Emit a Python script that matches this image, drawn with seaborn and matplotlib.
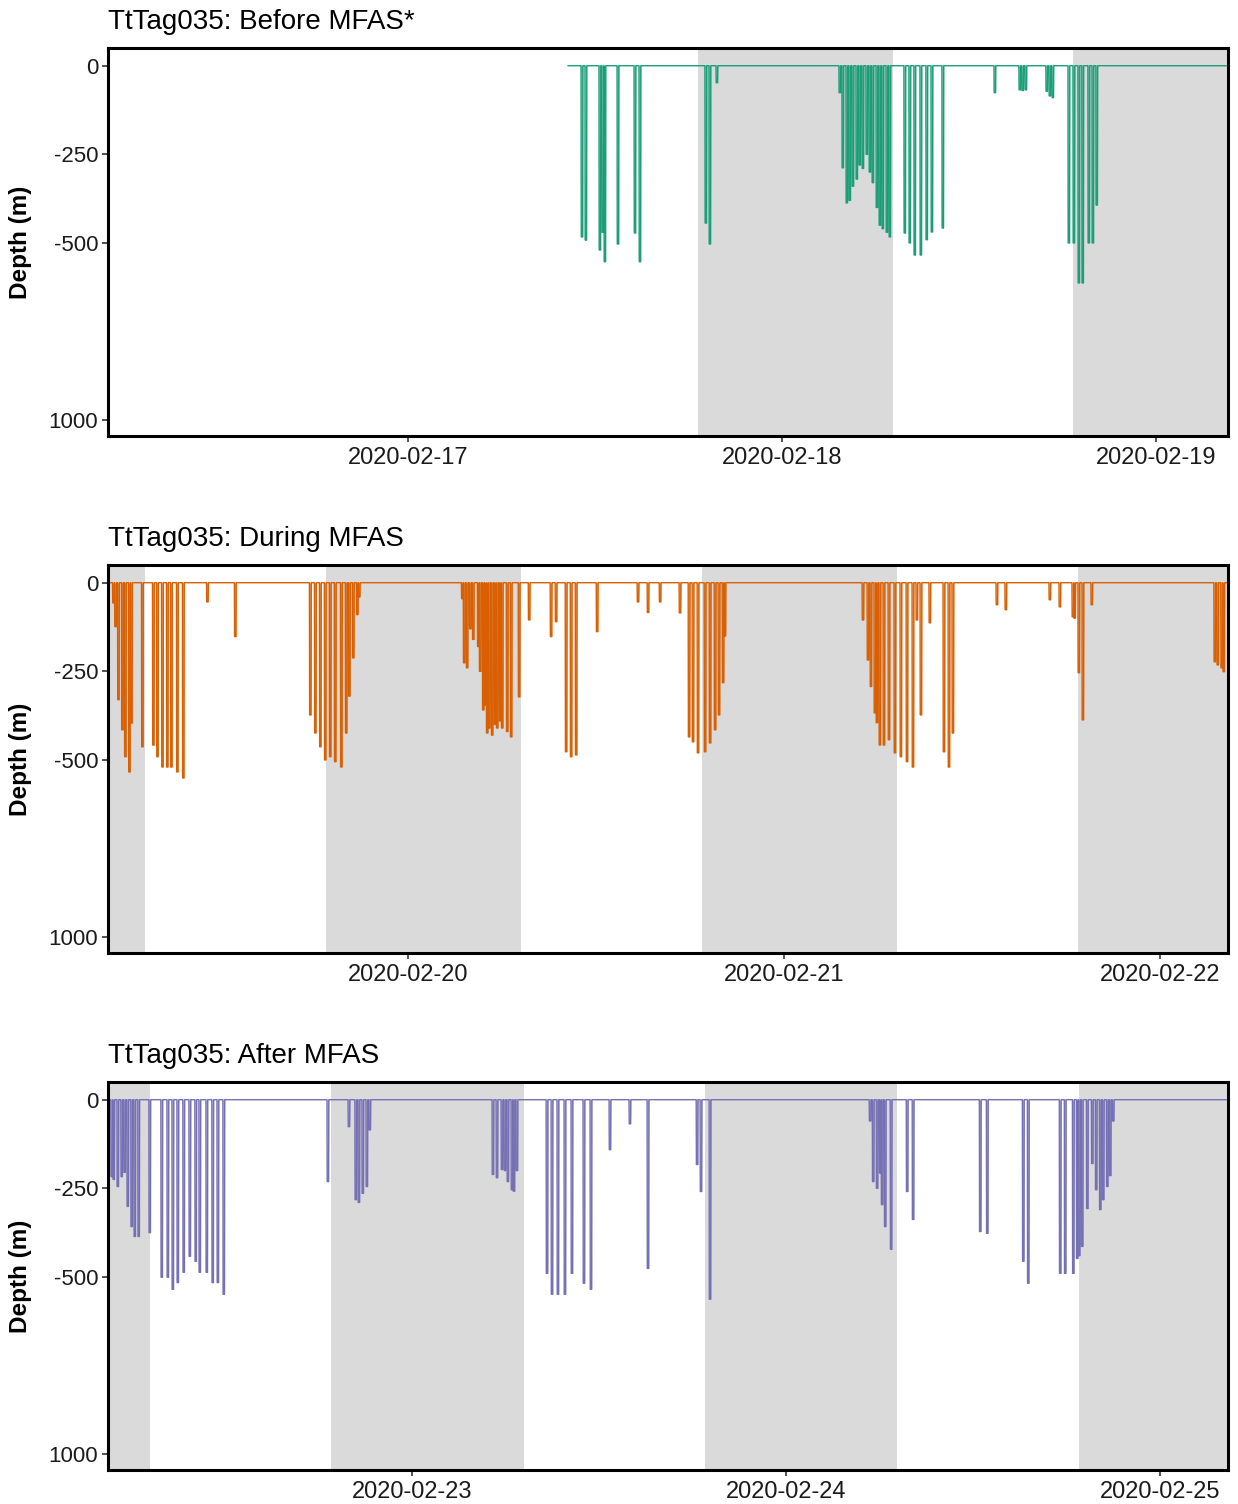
import pandas as pd
import matplotlib
matplotlib.use("Agg")
import matplotlib.pyplot as plt
import matplotlib.dates as mdates
import seaborn as sns

# ---- data -------------------------------------------------------------
titles = ["TtTag035: Before MFAS*", "TtTag035: During MFAS", "TtTag035: After MFAS"]
colors = ["#1b9e77", "#d95f02", "#7570b3"]

# plotted time window of each panel
win_start = ["2020-02-16 04:45", "2020-02-19 04:50", "2020-02-22 04:30"]
win_end = ["2020-02-19 04:38", "2020-02-22 04:20", "2020-02-25 04:22"]
# first record of the tag (panel 1 starts before the tag data)
data_start = ["2020-02-17 10:16", "2020-02-19 04:50", "2020-02-22 04:30"]

sunsets = ["2020-02-17 18:38", "2020-02-18 18:40", "2020-02-19 18:45", "2020-02-20 18:46",
           "2020-02-21 18:46", "2020-02-22 18:48", "2020-02-23 18:49", "2020-02-24 18:49"]
sunrises = ["2020-02-18 07:08", "2020-02-19 07:12", "2020-02-20 07:12", "2020-02-21 07:12",
            "2020-02-22 07:11", "2020-02-23 07:11", "2020-02-24 07:08", "2020-02-25 07:08"]

# dives: hours after the reference midnight, max depth (m)
before_ref = "2020-02-17"
before_hours = [11.17, 11.42, 12.32, 12.51, 12.64, 13.48, 14.57, 14.89,
                19.12, 19.38, 19.83,
                27.72, 27.91, 28.17, 28.36, 28.56, 28.81, 29.0, 29.2, 29.45, 29.65,
                29.84, 30.1, 30.29, 30.48, 30.74, 30.93,
                31.89, 32.21, 32.53, 32.92, 33.30, 33.63, 34.33,
                37.67, 39.27, 39.46, 39.66, 41.0, 41.2, 41.39,
                42.42, 42.74, 43.06, 43.31, 43.70, 43.96, 44.21]
before_depth = [483, 492, 520, 470, 553, 503, 472, 553,
                444, 503, 48,
                76, 288, 387, 380, 340, 320, 280, 290, 250, 300,
                330, 400, 450, 460, 470, 483,
                472, 500, 534, 534, 491, 469, 458,
                76, 68, 70, 68, 72, 85, 90,
                500, 500, 613, 613, 500, 500, 393]

during_ref = "2020-02-20"
during_hours = [-18.82, -18.69, -18.50, -18.25, -18.06, -17.80, -17.67, -16.97, -16.27, -16.01,
                -15.69, -15.38, -15.12, -14.74, -14.36, -12.82, -11.04,
                -6.25, -5.93, -5.61, -5.30, -4.98, -4.66, -4.27, -3.96, -3.76, -3.51, -3.25, -3.13,
                3.45, 3.57, 3.76, 3.96, 4.15, 4.47, 4.59, 4.79, 4.91, 5.04, 5.17, 5.36, 5.55,
                5.68, 5.87, 6.00, 6.32, 6.57, 7.08,
                7.72, 9.12, 9.44, 10.08, 10.40, 10.72, 12.06, 14.67, 15.31, 16.08, 17.35,
                17.93, 18.18, 18.50, 18.95, 19.27, 19.59, 19.84, 20.10, 20.22,
                29.03, 29.35, 29.54, 29.79, 29.92, 30.11, 30.37, 30.69, 31.07, 31.45, 31.84,
                32.22, 32.47, 32.73, 33.30, 34.20, 34.52, 34.77,
                37.58, 38.15, 40.96, 41.60, 42.43, 42.55, 42.81, 43.07, 43.64,
                51.49, 51.68, 51.93, 52.06]
during_depth = [57, 124, 330, 415, 491, 534, 396, 463, 458, 491,
                520, 520, 520, 534, 551, 54, 152,
                373, 424, 463, 500, 491, 505, 520, 424, 320, 212, 90, 40,
                45, 226, 240, 130, 160, 180, 250, 359, 345, 424, 410, 430, 400,
                410, 390, 410, 420, 435, 322,
                105, 152, 110, 477, 491, 486, 138, 54, 84, 54, 85,
                435, 449, 480, 477, 452, 415, 373, 282, 150,
                105, 218, 293, 367, 395, 458, 458, 443, 480, 491, 505,
                520, 105, 373, 113, 477, 520, 424,
                62, 76, 48, 68, 96, 100, 254, 387, 62,
                223, 232, 240, 251]

after_ref = "2020-02-23"
after_hours = [-19.26, -19.13, -18.87, -18.62, -18.43, -18.23, -17.98, -17.78, -17.53, -16.82,
               -16.05, -15.66, -15.34, -15.02, -14.64, -14.25, -13.87, -13.61, -13.16, -12.78,
               -12.45, -12.07,
               -5.39, -4.04, -3.60, -3.40, -3.15, -2.89, -2.70,
               5.20, 5.46, 5.78, 5.97, 6.16, 6.42, 6.55, 6.74,
               8.67, 8.99, 9.37, 9.82, 10.27, 11.04, 11.49, 12.71, 13.99, 15.15,
               18.30, 18.55, 19.13,
               29.40, 29.60, 29.85, 30.05, 30.17, 30.37, 30.75, 31.78, 32.16,
               36.47, 36.92, 39.23, 39.55, 41.60, 41.92, 42.44, 42.69, 42.82,
               43.01, 43.34, 43.66, 43.91, 44.17, 44.36, 44.62, 44.81, 45.00]
after_depth = [217, 225, 245, 217, 205, 301, 358, 386, 386, 375,
               501, 501, 535, 516, 487, 442, 456, 487, 487, 516,
               516, 549,
               231, 76, 282, 290, 264, 245, 85,
               211, 220, 197, 200, 231, 254, 258, 200,
               490, 549, 549, 549, 490, 518, 535, 141, 68, 476,
               183, 259, 563,
               60, 231, 250, 207, 296, 358, 422, 259, 338,
               372, 377, 456, 518, 490, 490, 490, 448, 440,
               414, 307, 180, 254, 310, 282, 245, 214, 60]

y_ticks = [0, 250, 500, 1000]
y_ticklabels = ["0", "-250", "-500", "1000"]

panels = [(before_ref, before_hours, before_depth),
          (during_ref, during_hours, during_depth),
          (after_ref, after_hours, after_depth)]


def dive_profile(ref, hours, depths, start, end):
    t = pd.to_datetime(ref) + pd.to_timedelta(hours, unit="h")
    half = pd.Timedelta(minutes=3.5)
    edge = pd.Timedelta(minutes=0.8)
    rows = [(pd.Timestamp(start), 0)]
    for ti, di in sorted(zip(t, depths)):
        rows += [(ti - half, 0), (ti - half + edge, di), (ti + half - edge, di), (ti + half, 0)]
    rows.append((pd.Timestamp(end), 0))
    return pd.DataFrame(rows, columns=["time", "depth"])


sns.set_style("white")
plt.rcParams["font.family"] = ["Liberation Sans", "DejaVu Sans"]
plt.rcParams["text.color"] = "black"
plt.rcParams["axes.labelcolor"] = "black"

fig = plt.figure(figsize=(12.38, 15.04), dpi=100)
tops = [48, 565, 1082]
ax_h = 388

for i, (ref, hours, depths) in enumerate(panels):
    top = tops[i]
    ax = fig.add_axes([108 / 1238, 1 - (top + ax_h) / 1504, 1120 / 1238, ax_h / 1504])
    x0, x1 = pd.Timestamp(win_start[i]), pd.Timestamp(win_end[i])
    d0 = pd.Timestamp(data_start[i])

    for ss, sr in zip(sunsets, sunrises):
        a, b = max(pd.Timestamp(ss), d0), min(pd.Timestamp(sr), x1)
        if a < b:
            ax.axvspan(a, b, color="#dadada", lw=0, zorder=0)

    df = dive_profile(ref, hours, depths, d0, x1)
    ax.fill_between(df["time"], df["depth"], 0, color=colors[i], alpha=0.55, lw=0, zorder=1)
    sns.lineplot(data=df, x="time", y="depth", estimator=None, sort=False,
                 color=colors[i], linewidth=1.0, ax=ax, zorder=2)

    ax.set_xlim(x0, x1)
    ax.set_ylim(1045, -50)
    ax.set_yticks(y_ticks)
    ax.set_yticklabels(y_ticklabels)
    ax.xaxis.set_major_locator(mdates.DayLocator())
    ax.xaxis.set_major_formatter(mdates.DateFormatter("%Y-%m-%d"))
    ax.tick_params(axis="x", bottom=True, labelsize=17, length=4, width=1.2,
                   color="#333333", labelcolor="#1a1a1a", pad=4)
    ax.tick_params(axis="y", left=True, labelsize=16, length=4, width=1.2,
                   color="#333333", labelcolor="#1a1a1a", pad=3)
    ax.set_xlabel("")
    ax.set_ylabel("Depth (m)", fontsize=17.5, fontweight="bold", labelpad=12)
    ax.set_title(titles[i], loc="left", fontsize=20, pad=14)
    for sp in ax.spines.values():
        sp.set_visible(True)
        sp.set_color("black")
        sp.set_linewidth(2.2)

fig.savefig("out.png", dpi=100)
